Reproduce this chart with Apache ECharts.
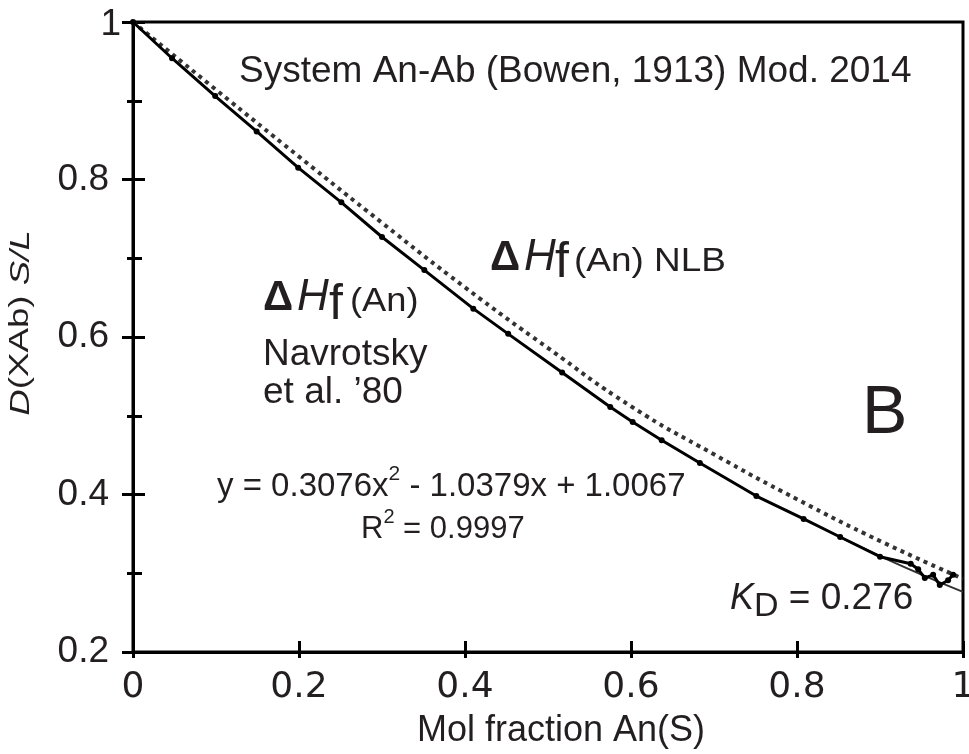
<!DOCTYPE html>
<html>
<head>
<meta charset="utf-8">
<script src="https://cdn.jsdelivr.net/npm/echarts@6/dist/echarts.min.js"></script>
<style>
  html, body { margin: 0; padding: 0; background: #fff; }
  #chart { width: 969px; height: 754px; }
</style>
</head>
<body>
<div id="chart"></div>
<script>
// Tick values of both axes
const xTicks = [0, 0.2, 0.4, 0.6, 0.8, 1];
const yTicks = [0.2, 0.4, 0.6, 0.8, 1];

// Calculated D(XAb) S/L versus mole fraction An in the solid
const molFractionAn = [0, 0.047, 0.099, 0.149, 0.199, 0.251, 0.300, 0.351, 0.410, 0.452,
  0.517, 0.575, 0.602, 0.637, 0.683, 0.751, 0.808, 0.852, 0.900, 0.937,
  0.946, 0.954, 0.964, 0.972, 0.982, 0.988];
const dXAb = [1.000, 0.954, 0.906, 0.861, 0.815, 0.771, 0.727, 0.685, 0.636, 0.604,
  0.555, 0.511, 0.492, 0.469, 0.440, 0.398, 0.369, 0.346, 0.321, 0.312,
  0.305, 0.294, 0.298, 0.285, 0.291, 0.298];

// Same ratio with the NLB enthalpy of formation of An
const nlbX = [0, 0.1, 0.2, 0.3, 0.4, 0.5, 0.6, 0.7, 0.8, 0.9, 1.0];
const nlbY = [1.000, 0.914, 0.829, 0.745, 0.663, 0.586, 0.512, 0.451, 0.394, 0.341, 0.293];

// Tail of the quadratic trend line (y = 0.3076x^2 - 1.0379x + 1.0067), out to KD at x = 1
const fitX = [0.85, 0.9, 0.95, 1.0];
const fitY = [0.3467, 0.3218, 0.2983, 0.2764];

const INK = '#231f20';
const SANS = '"Liberation Sans", Arial, Helvetica, sans-serif';

const pairs = (xs, ys) => xs.map((x, i) => [x, ys[i]]);

// canvas context used to measure text runs for inline layout
const measureCtx = document.createElement('canvas').getContext('2d');
function fontOf(size, style) {
  return (style ? style + ' ' : '') + size + 'px ' + SANS;
}
function label(x, y, text, size, style, extra) {
  return Object.assign({
    type: 'text', x: x, y: y, silent: true,
    style: { text: text, fill: INK, font: fontOf(size, style), align: 'left', verticalAlign: 'middle' }
  }, extra || {});
}
// lay out a sequence of runs [text, size, style, dy] left to right
function runs(x, y, parts) {
  const out = [];
  let cx = x;
  parts.forEach(p => {
    const [text, size, style, dy] = p;
    out.push(label(cx, y + (dy || 0), text, size, style));
    measureCtx.font = fontOf(size, style);
    cx += measureCtx.measureText(text).width;
  });
  return out;
}

const graphics = [].concat(
  [label(239, 72, 'System An-Ab (Bowen, 1913) Mod. 2014', 37)],
  // ΔHf (An) NLB
  [
    label(490, 258, 'Δ', 42, 'bold'),
    label(524, 258, 'H', 44, 'italic'),
    label(555, 263, 'f', 50),
    label(574, 262, '(An) NLB', 33, null, { scaleX: 1.12 })
  ],
  // ΔHf (An) Navrotsky et al. '80
  [
    label(263, 298, 'Δ', 42, 'bold'),
    label(297, 298, 'H', 44, 'italic'),
    label(329, 305, 'f', 50),
    label(350, 302, '(An)', 33, null, { scaleX: 1.1 }),
    label(263, 355, 'Navrotsky', 37),
    label(263, 393, 'et al. ’80', 37)
  ],
  runs(217, 487, [
    ['y = 0.3076x', 33],
    ['2', 21, null, -13],
    [' - 1.0379x + 1.0067', 33]
  ]),
  runs(361, 529, [
    ['R', 31],
    ['2', 20, null, -12],
    [' = 0.9997', 31]
  ]),
  runs(730, 599, [
    ['K', 36, 'italic'],
    ['D', 34, null, 8],
    [' = 0.276', 37]
  ]),
  [label(862, 414, 'B', 68)],
  [{
    type: 'text', x: 21, y: 323, rotation: Math.PI / 2, scaleX: 1.36, silent: true,
    style: {
      text: '{i|D}{n|(XAb) }{i|S/L}', align: 'center', verticalAlign: 'middle', fill: INK,
      font: fontOf(27),
      rich: {
        i: { fontStyle: 'italic', fontSize: 27, fontFamily: SANS, fill: INK },
        n: { fontSize: 27, fontFamily: SANS, fill: INK }
      }
    }
  }]
);

const chart = echarts.init(document.getElementById('chart'), null, { renderer: 'canvas' });

const xBase = { type: 'value', min: 0, max: 1, interval: 0.2, position: 'bottom', splitLine: { show: false } };
const yBase = { type: 'value', min: 0.2, max: 1, interval: 0.2, position: 'left', splitLine: { show: false } };

chart.setOption({
  animation: false,
  backgroundColor: '#fff',
  grid: {
    left: 133, right: 6, top: 22, bottom: 102,
    show: true, borderColor: '#000', borderWidth: 3,
    outerBoundsMode: 'none'
  },
  xAxis: [
    Object.assign({}, xBase, {
      name: 'Mol fraction An(S)',
      nameLocation: 'middle',
      nameGap: 61,
      nameTextStyle: { fontFamily: SANS, fontSize: 36, color: INK, padding: [0, 0, 0, 26] },
      axisLine: { show: true, lineStyle: { color: '#000', width: 3 } },
      axisTick: { show: true, inside: false, length: 6, lineStyle: { color: '#000', width: 3 } },
      axisLabel: {
        show: true, margin: 18, color: INK, fontFamily: '"DejaVu Sans", sans-serif', fontSize: 36,
        formatter: v => String(xTicks.find(t => Math.abs(t - v) < 1e-9) ?? v)
      }
    }),
    Object.assign({}, xBase, {
      axisLine: { show: false },
      axisTick: { show: true, inside: true, length: 11, lineStyle: { color: '#000', width: 3 } },
      axisLabel: { show: false }
    })
  ],
  yAxis: [
    Object.assign({}, yBase, {
      axisLine: { show: true, lineStyle: { color: '#000', width: 3 } },
      axisTick: { show: true, inside: false, length: 11, lineStyle: { color: '#000', width: 3 } },
      minorTick: { show: true, splitNumber: 2, length: 6, lineStyle: { color: '#000', width: 3 } },
      axisLabel: {
        show: true, margin: 24, color: INK, fontFamily: SANS, fontSize: 37,
        formatter: v => {
          const t = yTicks.find(k => Math.abs(k - v) < 1e-9) ?? v;
          return t === 1 ? '{one|1}' : String(t);
        },
        rich: { one: { fontFamily: SANS, fontSize: 37, color: INK, padding: [6, -12, 0, 0] } }
      }
    }),
    Object.assign({}, yBase, {
      axisLine: { show: false },
      axisTick: { show: true, inside: true, length: 12, lineStyle: { color: '#000', width: 3 } },
      minorTick: { show: true, splitNumber: 2, length: 9, lineStyle: { color: '#000', width: 3 } },
      axisLabel: { show: false }
    })
  ],
  series: [
    {
      name: 'Quadratic fit',
      type: 'line',
      data: pairs(fitX, fitY),
      smooth: true,
      showSymbol: false,
      lineStyle: { color: '#333', width: 2 },
      z: 1
    },
    {
      name: 'ΔHf (An) NLB',
      type: 'line',
      data: pairs(nlbX, nlbY),
      smooth: true,
      showSymbol: false,
      lineStyle: { color: '#333', width: 4, type: [4, 4.5], cap: 'butt' },
      z: 2
    },
    {
      name: 'ΔHf (An) Navrotsky et al. 1980',
      type: 'line',
      data: pairs(molFractionAn, dXAb),
      smooth: false,
      symbol: 'circle',
      symbolSize: 6,
      showSymbol: true,
      itemStyle: { color: '#000' },
      lineStyle: { color: '#000', width: 3 },
      z: 3
    }
  ],
  graphic: graphics
});
</script>
</body>
</html>
